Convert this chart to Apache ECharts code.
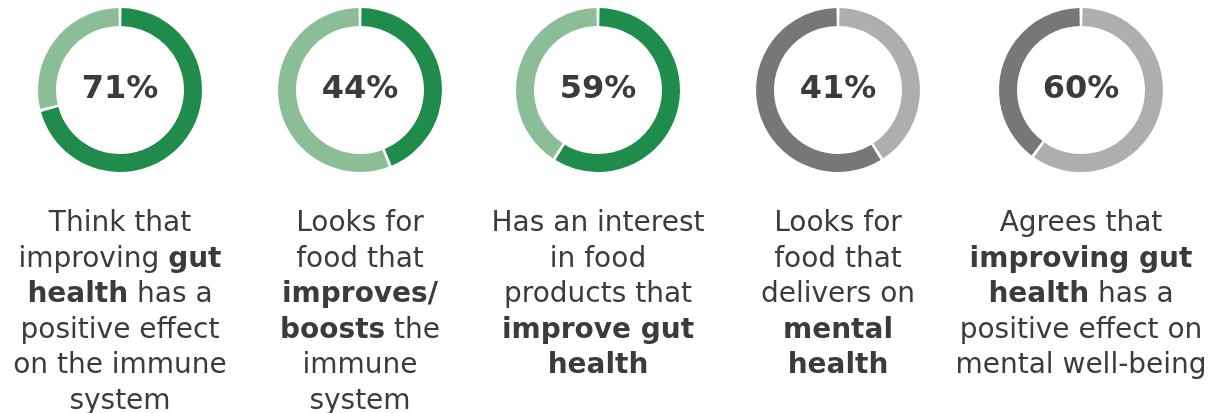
<!DOCTYPE html>
<html>
<head>
<meta charset="utf-8">
<script src="https://cdn.jsdelivr.net/npm/echarts@6/dist/echarts.min.js"></script>
<style>
  html, body { margin: 0; padding: 0; background: #fff; }
  #chart { width: 1223px; height: 413px; }
</style>
</head>
<body>
<div id="chart"></div>
<script>
// share of respondents (%)
const values = [71, 44, 59, 41, 60];
// **text** is bold
const captions = [
  "Think that\nimproving **gut**\n**health** has a\npositive effect\non the immune\nsystem",
  "Looks for\nfood that\n**improves/**\n**boosts** the\nimmune\nsystem",
  "Has an interest\nin food\nproducts that\n**improve gut**\n**health**",
  "Looks for\nfood that\ndelivers on\n**mental**\n**health**",
  "Agrees that\n**improving gut**\n**health** has a\npositive effect on\nmental well-being"
];
const themes = ["green", "green", "green", "grey", "grey"];

const colors = {
  green: { main: "#1f8c4b", rest: "#8bbe97" },
  grey: { main: "#aeaeae", rest: "#777777" }
};
const centersX = [120, 360, 598, 838, 1081];
const fontFamily = "'DejaVu Sans', sans-serif";

const toRich = (str) =>
  str.split("\n").map((line) =>
    line.split(/(\*\*[^*]+\*\*)/).filter((s) => s).map((s) =>
      s.startsWith("**") ? "{b|" + s.slice(2, -2) + "}" : "{n|" + s + "}"
    ).join("")
  ).join("\n");

const chart = echarts.init(document.getElementById("chart"));

const series = values.map((v, i) => {
  const c = colors[themes[i]];
  return {
    type: "pie",
    center: [centersX[i], 90],
    radius: [64, 82],
    startAngle: 90,
    padAngle: 2.2,
    silent: true,
    labelLine: { show: false },
    label: { show: false },
    data: [
      {
        value: v,
        itemStyle: { color: c.main },
        label: {
          show: true,
          position: "center",
          formatter: "{c}%",
          fontSize: 32,
          fontWeight: "bold",
          color: "#3b3b3b",
          fontFamily: fontFamily
        }
      },
      { value: 100 - v, itemStyle: { color: c.rest } }
    ]
  };
});

const titles = captions.map((t, i) => ({
  text: toRich(t),
  left: centersX[i],
  top: 206,
  padding: 0,
  textAlign: "center",
  textStyle: {
    fontWeight: "normal",
    rich: {
      n: { fontSize: 28, lineHeight: 35.5, color: "#3b3b3b", fontWeight: "normal", fontFamily: fontFamily },
      b: { fontSize: 28, lineHeight: 35.5, color: "#3b3b3b", fontWeight: "bold", fontFamily: fontFamily }
    }
  }
}));

chart.setOption({
  animation: false,
  title: titles,
  series: series
});
</script>
</body>
</html>
